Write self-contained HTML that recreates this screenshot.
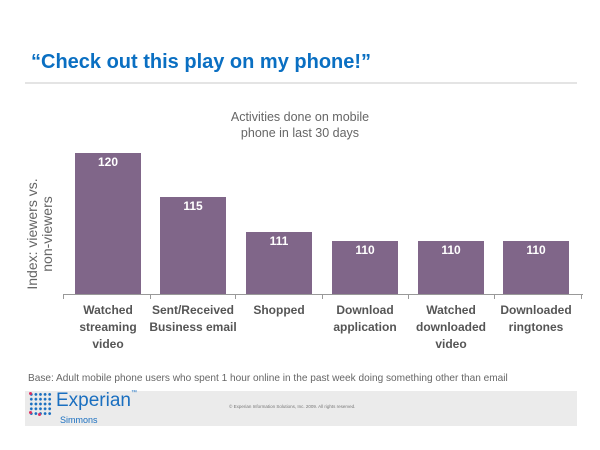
<!DOCTYPE html>
<html><head><style>
body{margin:0;width:600px;height:450px;background:#fff;position:relative;overflow:hidden;font-family:"Liberation Sans",Arial,sans-serif}
.a{position:absolute}
.bar{position:absolute;background:#806689;width:66px;color:#fff;font-weight:bold;font-size:12px;text-align:center;line-height:18px}
.lab{position:absolute;top:302px;width:104px;text-align:center;color:#555;font-weight:bold;font-size:12px;line-height:17px}
</style></head><body>
<div class="a" style="left:31px;top:51px;font-size:20px;font-weight:bold;color:#0a6fc2">“Check out this play on my phone!”</div>
<div class="a" style="left:25px;top:82px;width:552px;height:2px;background:#e4e4e4"></div>
<div class="a" style="left:180px;top:109px;width:240px;text-align:center;color:#666;font-size:12.5px;line-height:16px">Activities done on mobile<br>phone in last 30 days</div>
<div class="a" style="left:-40px;top:219px;width:160px;transform:rotate(-90deg);text-align:center;color:#666;font-size:14px;line-height:15px">Index: viewers vs.<br>non-viewers</div>
<div class="bar" style="left:75px;top:153px;height:141px">120</div>
<div class="bar" style="left:160px;top:197px;height:97px">115</div>
<div class="bar" style="left:246px;top:232px;height:62px">111</div>
<div class="bar" style="left:332px;top:241px;height:53px">110</div>
<div class="bar" style="left:418px;top:241px;height:53px">110</div>
<div class="bar" style="left:503px;top:241px;height:53px">110</div>
<div class="a" style="left:63px;top:294px;width:520px;height:1px;background:#999"></div>
<div class="a" style="left:63px;top:294px;width:1px;height:5px;background:#999"></div>
<div class="a" style="left:150px;top:294px;width:1px;height:5px;background:#999"></div>
<div class="a" style="left:235px;top:294px;width:1px;height:5px;background:#999"></div>
<div class="a" style="left:322px;top:294px;width:1px;height:5px;background:#999"></div>
<div class="a" style="left:408px;top:294px;width:1px;height:5px;background:#999"></div>
<div class="a" style="left:494px;top:294px;width:1px;height:5px;background:#999"></div>
<div class="a" style="left:581px;top:294px;width:1px;height:5px;background:#999"></div>
<div class="lab" style="left:56px">Watched<br>streaming<br>video</div>
<div class="lab" style="left:141px">Sent/Received<br>Business email</div>
<div class="lab" style="left:227px">Shopped</div>
<div class="lab" style="left:313px">Download<br>application</div>
<div class="lab" style="left:399px">Watched<br>downloaded<br>video</div>
<div class="lab" style="left:484px">Downloaded<br>ringtones</div>
<div class="a" style="left:28px;top:373px;color:#666;font-size:10.1px">Base: Adult mobile phone users who spent 1 hour online in the past week doing something other than email</div>
<div class="a" style="left:25px;top:391px;width:552px;height:35px;background:#ebebeb"></div>
<div class="a" style="left:29px;top:392px;width:23px;height:24px;background:radial-gradient(circle,#1a6fc0 1.2px,transparent 1.6px) 0 0/4.6px 4.8px"></div>
<div class="a" style="left:29px;top:392px;width:3px;height:3px;border-radius:50%;background:#e03060"></div>
<div class="a" style="left:29px;top:411px;width:3px;height:3px;border-radius:50%;background:#e03060"></div>
<div class="a" style="left:38px;top:413px;width:3px;height:3px;border-radius:50%;background:#e03060"></div>
<div class="a" style="left:56px;top:390px;font-size:19px;color:#1a6fc0">Experian<span style="font-size:6px;vertical-align:top">™</span></div>
<div class="a" style="left:60px;top:415px;font-size:9px;color:#1a6fc0">Simmons</div>
<div class="a" style="left:229px;top:404px;font-size:4.5px;color:#777">© Experian Information Solutions, Inc. 2009.  All rights reserved.</div>
</body></html>
